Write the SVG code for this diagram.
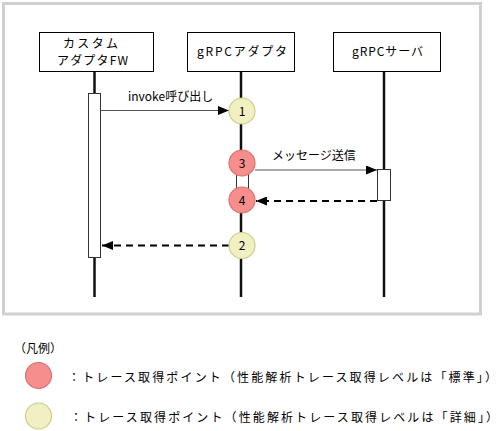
<svg xmlns="http://www.w3.org/2000/svg" width="499" height="431" viewBox="0 0 499 431">
<style>
text{font-family:"Noto Sans CJK JP","Noto Sans",sans-serif;fill:#000;}
.lbl{font-size:12px;}
.box{fill:#fff;stroke:#000;stroke-width:1;}
.life{stroke:#111;stroke-width:2.5;}
.act{fill:#fff;stroke:#333;stroke-width:1;}
.msg{stroke:#555;stroke-width:1.2;fill:none;}
.ret{stroke:#000;stroke-width:2;stroke-dasharray:7,5;fill:none;}
.red{fill:#f68e8e;stroke:#dc7272;stroke-width:1.2;}
.yel{fill:#f1f0c2;stroke:#cfcd8a;stroke-width:1.2;}
.num{font-size:12px;text-anchor:middle;}
</style>
<defs>
<marker id="ah" markerUnits="userSpaceOnUse" markerWidth="11" markerHeight="9" refX="11" refY="4.5" orient="auto">
<path d="M0,0 L11,4.5 L0,9 z" fill="#000"/>
</marker>
</defs>
<rect x="3.5" y="3.5" width="477" height="310.5" fill="#fff" stroke="#d0d0d0" stroke-width="3"/>
<g id="lifelines">
<line class="life" x1="94.5" y1="71" x2="94.5" y2="297"/>
<line class="life" x1="241" y1="71" x2="241" y2="297"/>
<line class="life" x1="384" y1="71" x2="384" y2="297"/>
</g>
<g id="node-fw">
<rect class="box" x="39.5" y="32.5" width="114" height="39"/>
<text class="lbl" x="63" y="48" font-size="13" textLength="55" lengthAdjust="spacing">カスタム</text>
<text class="lbl" x="57" y="65" font-size="13" textLength="71" lengthAdjust="spacing">アダプタFW</text>
<rect class="act" x="88.5" y="93.5" width="12" height="164"/>
</g>
<g id="node-adapter">
<rect class="box" x="187.5" y="32.5" width="107" height="39"/>
<text class="lbl" x="197" y="56" font-size="13" textLength="90" lengthAdjust="spacing">gRPCアダプタ</text>
<rect class="act" x="236.5" y="168.5" width="12" height="24"/>
</g>
<g id="node-server">
<rect class="box" x="333.5" y="32.5" width="107" height="39"/>
<text class="lbl" x="352" y="56" font-size="13" textLength="71" lengthAdjust="spacing">gRPCサーバ</text>
<rect class="act" x="377.5" y="169.5" width="13" height="31"/>
</g>
<g id="connectors">
<line class="msg" x1="101" y1="110.5" x2="229" y2="110.5" marker-end="url(#ah)"/>
<text class="lbl" x="128" y="101">invoke呼び出し</text>
<line class="msg" x1="255" y1="170" x2="377" y2="170" marker-end="url(#ah)"/>
<text class="lbl" x="272" y="160">メッセージ送信</text>
<line class="ret" x1="377" y1="201" x2="256" y2="201" marker-end="url(#ah)"/>
<line class="ret" x1="229" y1="245.5" x2="102" y2="245.5" marker-end="url(#ah)"/>
</g>
<g id="point-1">
<circle class="yel" cx="242" cy="111" r="13"/>
<text class="num" x="242" y="115.5">1</text>
</g>
<g id="point-3">
<circle class="red" cx="242" cy="163" r="13"/>
<text class="num" x="242" y="167.5">3</text>
</g>
<g id="point-4">
<circle class="red" cx="242" cy="200" r="13"/>
<text class="num" x="242" y="204.5">4</text>
</g>
<g id="point-2">
<circle class="yel" cx="242" cy="245.5" r="13"/>
<text class="num" x="242" y="250">2</text>
</g>
<g id="legend">
<text class="lbl" x="14" y="353">（凡例）</text>
<circle class="red" cx="38.5" cy="375.5" r="13" stroke="#f4a0a0"/>
<text class="lbl" x="68" y="382" font-size="13" textLength="429" lengthAdjust="spacing">：トレース取得ポイント（性能解析トレース取得レベルは「標準」）</text>
<circle class="yel" cx="38.5" cy="416" r="13"/>
<text class="lbl" x="70" y="422" font-size="13" textLength="428" lengthAdjust="spacing">：トレース取得ポイント（性能解析トレース取得レベルは「詳細」）</text>
</g>
</svg>
